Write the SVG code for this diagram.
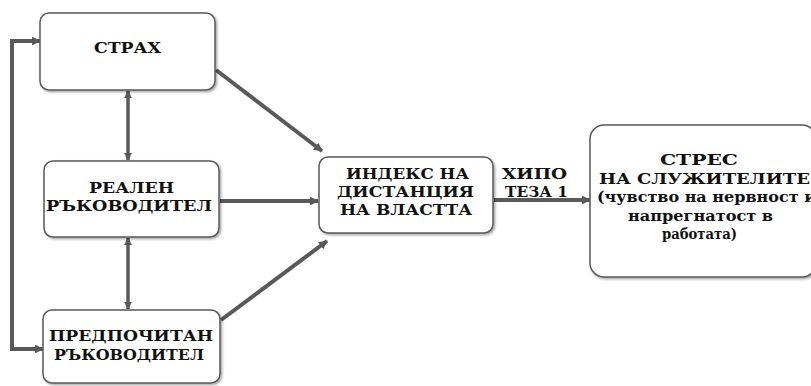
<svg xmlns="http://www.w3.org/2000/svg" width="811" height="386" viewBox="0 0 811 386">
<defs>
<marker id="ah" viewBox="0 0 10 10" refX="9" refY="5" markerWidth="2.2" markerHeight="2.2" orient="auto-start-reverse" markerUnits="strokeWidth">
<path d="M0,0 L10,5 L0,10 z" fill="#595959"/>
</marker>
<filter id="sh" x="-5%" y="-5%" width="115%" height="115%">
<feDropShadow dx="1.5" dy="1.5" stdDeviation="1" flood-color="#000" flood-opacity="0.35"/>
</filter>
</defs>
<style>
.box{fill:#fff;stroke:#5a5a5a;stroke-width:1.5;filter:url(#sh)}
.t{font-family:'DejaVu Serif','Liberation Serif',serif;font-weight:bold;font-size:15px;fill:#111}
.c{fill:none;stroke:#595959;stroke-width:4}
.c2{fill:none;stroke:#595959;stroke-width:3.5}
</style>
<rect width="811" height="386" fill="#fff"/>
<g id="connectors">
<path class="c" d="M40,41 H12 V349 H43" marker-start="url(#ah)" marker-end="url(#ah)"/>
<path class="c2" d="M128,91 V160" marker-start="url(#ah)" marker-end="url(#ah)"/>
<path class="c2" d="M128,238 V309" marker-start="url(#ah)" marker-end="url(#ah)"/>
<path class="c" d="M216,70 L322,151" marker-end="url(#ah)"/>
<path class="c" d="M220,201 H318" marker-end="url(#ah)"/>
<path class="c" d="M221,320 L327,241" marker-end="url(#ah)"/>
<path class="c" d="M494,200 H590" marker-end="url(#ah)"/>
</g>
<g id="strah">
<rect class="box" x="40" y="13" width="175" height="77" rx="9"/>
<text class="t" x="94" y="53" textLength="67" lengthAdjust="spacingAndGlyphs">СТРАХ</text>
</g>
<g id="realen">
<rect class="box" x="44" y="161" width="175" height="76" rx="9"/>
<text class="t" x="89" y="193" textLength="85" lengthAdjust="spacingAndGlyphs">РЕАЛЕН</text>
<text class="t" x="46" y="211" textLength="166" lengthAdjust="spacingAndGlyphs">РЪКОВОДИТЕЛ</text>
</g>
<g id="predpochitan">
<rect class="box" x="43" y="310" width="177" height="73" rx="9"/>
<text class="t" x="49" y="341" textLength="164" lengthAdjust="spacingAndGlyphs">ПРЕДПОЧИТАН</text>
<text class="t" x="54" y="360" textLength="150" lengthAdjust="spacingAndGlyphs">РЪКОВОДИТЕЛ</text>
</g>
<g id="indeks">
<rect class="box" x="319" y="157" width="174" height="76" rx="9"/>
<text class="t" x="346" y="179" textLength="123" lengthAdjust="spacingAndGlyphs">ИНДЕКС НА</text>
<text class="t" x="337" y="197" textLength="137" lengthAdjust="spacingAndGlyphs">ДИСТАНЦИЯ</text>
<text class="t" x="340" y="215" textLength="132" lengthAdjust="spacingAndGlyphs">НА ВЛАСТТА</text>
</g>
<g id="hipoteza">
<text class="t" x="502" y="179" textLength="65" lengthAdjust="spacingAndGlyphs">ХИПО</text>
<text class="t" x="505" y="197" textLength="63" lengthAdjust="spacingAndGlyphs">ТЕЗА 1</text>
</g>
<g id="stres">
<rect class="box" x="590" y="125" width="226" height="152" rx="14"/>
<text class="t" x="660" y="165" textLength="78" lengthAdjust="spacingAndGlyphs">СТРЕС</text>
<text class="t" x="599" y="184" textLength="211" lengthAdjust="spacingAndGlyphs">НА СЛУЖИТЕЛИТЕ</text>
<text class="t" x="597" y="202" textLength="219" lengthAdjust="spacingAndGlyphs">(чувство на нервност и</text>
<text class="t" x="628" y="221" textLength="145" lengthAdjust="spacingAndGlyphs">напрегнатост в</text>
<text class="t" x="662" y="239" textLength="75" lengthAdjust="spacingAndGlyphs">работата)</text>
</g>
</svg>
